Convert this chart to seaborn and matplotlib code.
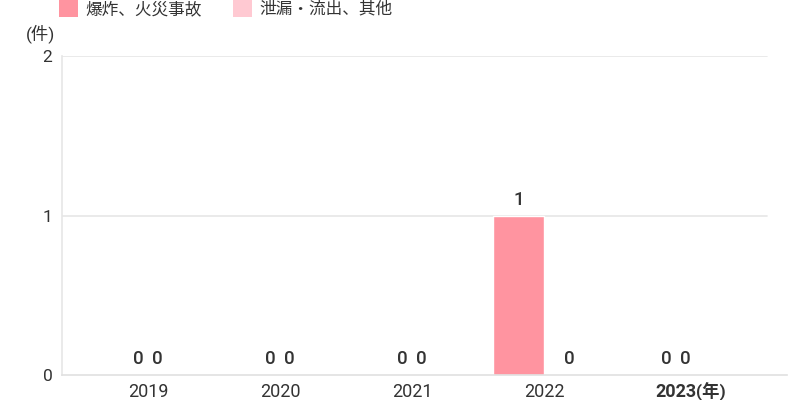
import pandas as pd
import numpy as np
import matplotlib
matplotlib.use("Agg")
import matplotlib.pyplot as plt
import seaborn as sns
from matplotlib.patches import Patch

sns.set_style("white")
plt.rcParams['font.family'] = ['Roboto', 'Noto Sans CJK JP', 'DejaVu Sans']

# data
years = ['2019', '2020', '2021', '2022', '2023']
series = ['爆炸、火災事故', '泄漏・流出、其他']
explosion = [0, 0, 0, 1, 0]
leakage = [0, 0, 0, 0, 0]
colors = ['#ff94a0', '#ffc9d2']

df = pd.DataFrame({
    'year': years * 2,
    'series': [series[0]] * len(years) + [series[1]] * len(years),
    'value': explosion + leakage,
})

fig = plt.figure(figsize=(8, 4), dpi=100)
ax = fig.add_axes([62 / 800, 25 / 400, 725 / 800, 319 / 400])

sns.barplot(data=df, x='year', y='value', hue='series', palette=colors,
            saturation=1, width=0.773, legend=False, ax=ax)

ax.set_xlim(-0.652, 4.841)
ax.set_ylim(0, 2)
ax.set_yticks([0, 1, 2])
ax.set_xlabel('')
ax.set_ylabel('')

# grid lines stop before the right end of the axis line
for y in [1, 2]:
    ax.axhline(y, xmin=0, xmax=705 / 725, color='#e6e6e6', lw=1.2, zorder=0)

for s in ['top', 'right']:
    ax.spines[s].set_visible(False)
ax.spines['left'].set_color('#e6e6e6')
ax.spines['bottom'].set_color('#e0e0e0')
ax.spines['left'].set_linewidth(1.2)
ax.spines['bottom'].set_linewidth(1.2)

ax.tick_params(axis='both', length=0, colors='#333333')
ax.tick_params(axis='y', pad=7, labelsize=12.5)
ax.tick_params(axis='x', pad=6, labelsize=13)
ax.set_xticks(range(len(years)))
ax.set_xticklabels(years)
ax.get_xticklabels()[-1].set_fontweight('bold')
ax.annotate('(年)', xy=(4, 0), xycoords=('data', 'axes fraction'),
            xytext=(14.5, -5.5), textcoords='offset points', ha='left', va='top',
            fontsize=12.5, fontweight='bold', color='#333333')

ax.text(-0.009, 1.07, '(件)', transform=ax.transAxes, ha='right', va='center',
        fontsize=12.5, color='#333333')

# value labels
vals = [explosion, leakage]
for i in range(len(years)):
    both_zero = explosion[i] == 0 and leakage[i] == 0
    for k in range(2):
        v = vals[k][i]
        if both_zero:
            x = i
            dx = -7 if k == 0 else 7
        else:
            x = i + (-0.1933 if k == 0 else 0.1933)
            dx = 0
        ax.annotate(str(v), xy=(x, v), xytext=(dx, 5), textcoords='offset points',
                    ha='center', va='bottom', fontsize=13.5, fontweight='medium',
                    color='#333333')

handles = [Patch(facecolor=c, edgecolor='none') for c in colors]
fig.legend(handles, series, loc='upper left', bbox_to_anchor=(59 / 800, 1.0),
           ncol=2, frameon=False, fontsize=12, handlelength=1.15,
           handleheight=1.15, handletextpad=0.42, columnspacing=1.9,
           borderpad=0.0, borderaxespad=0.0, labelcolor='#333333')

fig.savefig('out.png', dpi=100)
